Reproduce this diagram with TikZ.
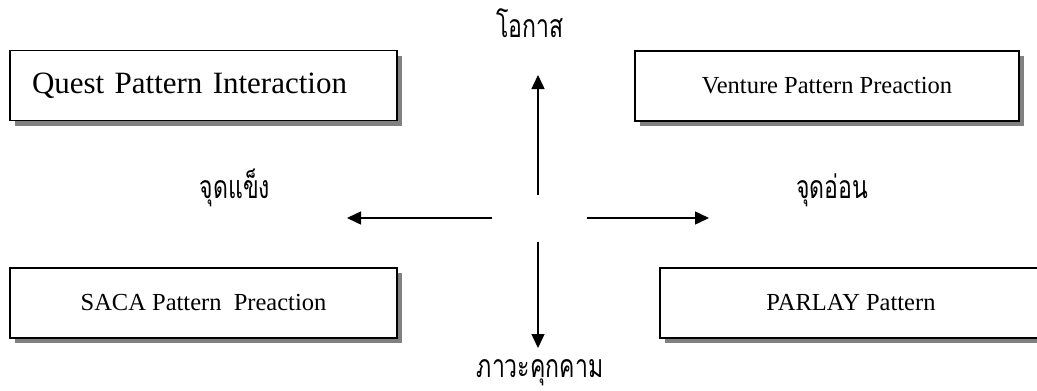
\documentclass[tikz,border=0pt]{standalone}
\usepackage{fontspec}
\setmainfont{Liberation Serif}
\newfontfamily\thaifont[Script=Thai,FakeStretch=0.72]{Loma}
\usetikzlibrary{arrows.meta,shadows}

\begin{document}
\begin{tikzpicture}[x=1pt,y=-1pt,
    patbox/.style={draw=black,line width=1.6pt,fill=white,inner sep=0pt,
      minimum height=70pt,
      drop shadow={shadow xshift=5pt,shadow yshift=-5pt,fill=black!50,opacity=1}},
    thailabel/.style={font=\thaifont\fontsize{32}{36}\selectfont,inner sep=0pt,anchor=base},
    axis/.style={line width=1.5pt,-{Triangle[length=14pt,width=13pt]}}]
    \useasboundingbox (0,0) rectangle (1037,391);
    \clip (0,0) rectangle (1037,391);
    % the four pattern boxes
    \node[patbox,minimum width=387pt,text width=343pt,align=left,
      font=\fontsize{31}{36}\selectfont] (quest) at (203.5,85.5) {Quest Pattern Interaction};
    \node[patbox,minimum width=384pt,font=\fontsize{24.5}{29}\selectfont] (venture) at (827,86) {Venture Pattern Preaction};
    \node[patbox,minimum width=387pt,font=\fontsize{24.5}{29}\selectfont] (saca) at (203.5,303) {SACA Pattern\ \ Preaction};
    \node[patbox,minimum width=382pt,font=\fontsize{24.5}{29}\selectfont] (parlay) at (851,303) {PARLAY Pattern};
    % labels of the axes
    \node[thailabel] (opp) at (530,37) {โอกาส};
    \node[thailabel] (threat) at (540,377) {ภาวะคุกคาม};
    \node[thailabel] (strong) at (235,198) {จุดแข็ง};
    \node[thailabel] (weak) at (832,198) {จุดอ่อน};
    % arrows out of the centre
    \coordinate (upfoot) at (538,195);
    \coordinate (uptip) at (538,75);
    \coordinate (downfoot) at (538,242);
    \coordinate (downtip) at (538,348);
    \coordinate (leftfoot) at (492,218);
    \coordinate (lefttip) at (347,218);
    \coordinate (rightfoot) at (587,218);
    \coordinate (righttip) at (709,218);
    \draw[axis] (upfoot) -- (uptip);
    \draw[axis] (downfoot) -- (downtip);
    \draw[axis] (leftfoot) -- (lefttip);
    \draw[axis] (rightfoot) -- (righttip);
\end{tikzpicture}
\end{document}
